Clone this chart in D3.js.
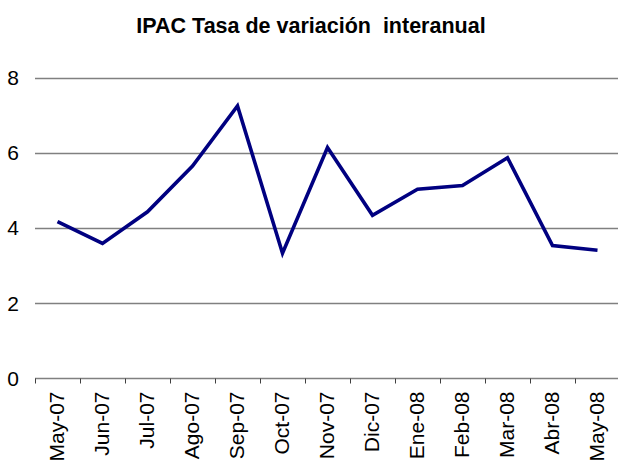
<!DOCTYPE html>
<meta charset="utf-8">
<style>
body { margin: 0; background: #fff; }
svg text { font-family: "Liberation Sans", Arial, sans-serif; fill: #000; }
.grid line { stroke: #808080; stroke-width: 1.3; }
.serie { fill: none; stroke: #000080; stroke-width: 3.6; stroke-linejoin: miter; }
</style>
<body>
<script src="https://d3js.org/d3.v7.min.js"></script>
<script>
var meses = ['May-07', 'Jun-07', 'Jul-07', 'Ago-07', 'Sep-07', 'Oct-07', 'Nov-07',
    'Dic-07', 'Ene-08', 'Feb-08', 'Mar-08', 'Abr-08', 'May-08']
var tasa = [4.17, 3.59, 4.43, 5.65, 7.25, 3.33, 6.14, 4.34, 5.03, 5.13, 5.87, 3.53, 3.41]
var yTicks = [0, 2, 4, 6, 8]

var width = 618
var height = 463

var svg = d3.select('body').append('svg')
    .attr('width', width)
    .attr('height', height)

var x = d3.scaleBand()
    .domain(meses)
    .range([35, 620])

var y = d3.scaleLinear()
    .domain([0, 8])
    .range([378.3, 77.7])

svg.append('text')
    .attr('x', 311)
    .attr('y', 33)
    .attr('text-anchor', 'middle')
    .style('font-weight', 'bold')
    .style('font-size', '21.5px')
    .style('white-space', 'pre')
    .text('IPAC Tasa de variación  interanual')

// grid lines (the 0 one doubles as the category axis)
var grid = svg.append('g').attr('class', 'grid')
grid.selectAll('line')
    .data(yTicks)
    .enter().append('line')
    .attr('x1', 35)
    .attr('x2', 620)
    .attr('y1', function (d) { return Math.round(y(d)) + 0.5 })
    .attr('y2', function (d) { return Math.round(y(d)) + 0.5 })

// y labels
svg.append('g').selectAll('text')
    .data(yTicks)
    .enter().append('text')
    .attr('x', 19)
    .attr('y', function (d) { return y(d) })
    .attr('dy', '0.35em')
    .attr('text-anchor', 'end')
    .style('font-size', '21px')
    .text(function (d) { return d })

// x axis with ticks between categories
var xAxis = d3.axisBottom(x).tickSize(0).tickFormat('')
var gx = svg.append('g')
    .attr('transform', 'translate(0,' + (Math.round(y(0)) + 0.5) + ')')
    .call(xAxis)
gx.select('.domain').remove()

gx.selectAll('.sep')
    .data(meses)
    .enter().append('line')
    .attr('class', 'sep')
    .attr('x1', function (d) { return Math.round(x(d)) + 0.5 })
    .attr('x2', function (d) { return Math.round(x(d)) + 0.5 })
    .attr('y1', 0)
    .attr('y2', 5)
    .attr('stroke', '#404040')
    .attr('stroke-width', 1)

gx.selectAll('.lbl')
    .data(meses)
    .enter().append('text')
    .attr('class', 'lbl')
    .attr('transform', function (d) {
        return 'translate(' + (x(d) + x.bandwidth() / 2 - 1) + ',13) rotate(-90)'
    })
    .attr('text-anchor', 'end')
    .attr('dy', '0.35em')
    .style('font-size', '21px')
    .text(function (d) { return d })

var line = d3.line()
    .x(function (d, i) { return x(meses[i]) + x.bandwidth() / 2 })
    .y(function (d) { return y(d) })

svg.append('path')
    .datum(tasa)
    .attr('class', 'serie')
    .attr('d', line)
</script>
</body>
